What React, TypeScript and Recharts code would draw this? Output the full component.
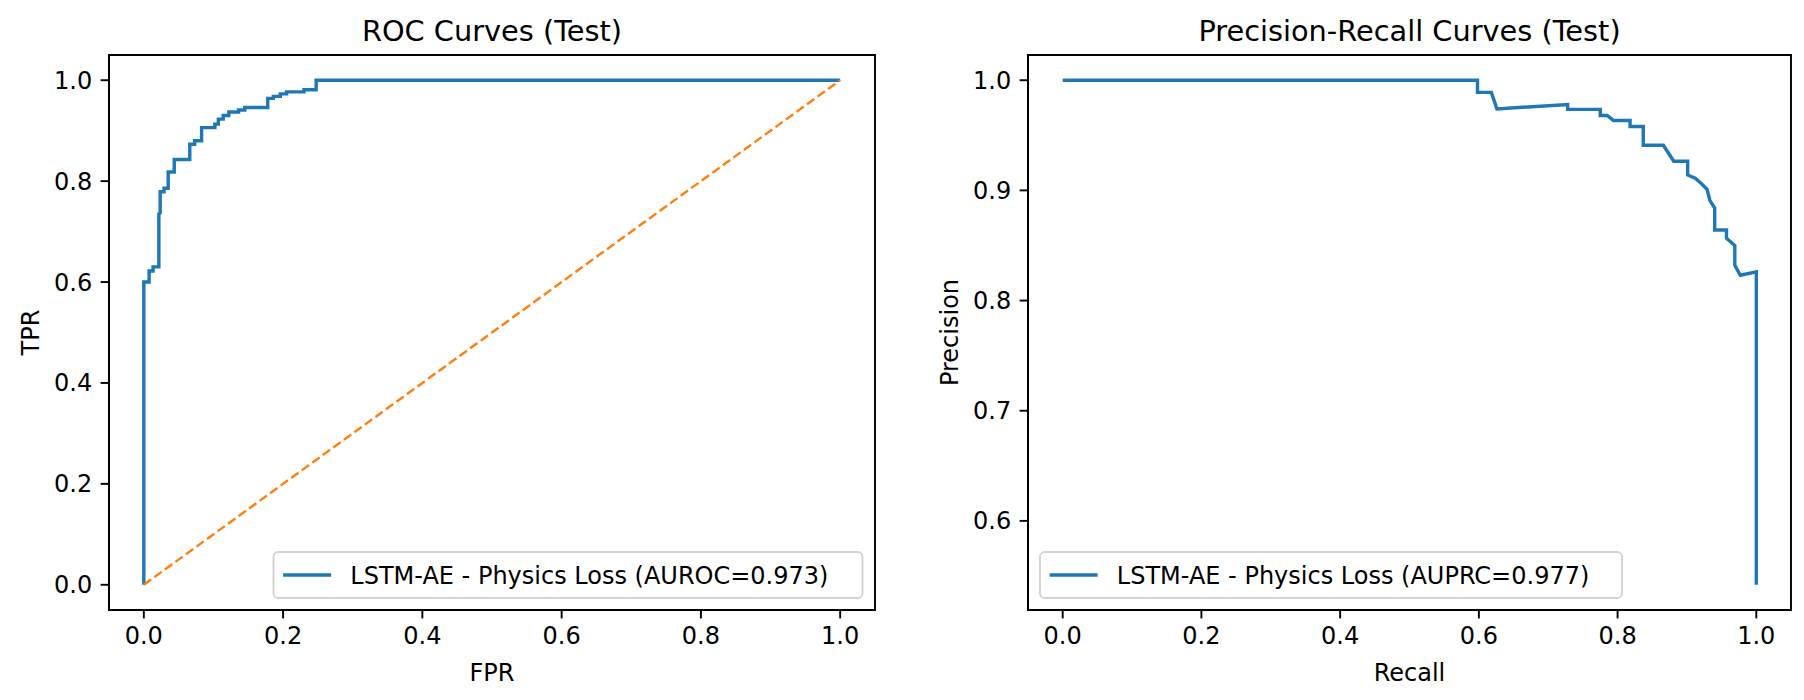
import React from 'react';
import { LineChart, Line, XAxis, YAxis, ReferenceArea } from 'recharts';

// ROC curve (test)
const rocFpr = [0, 0, 0.0076, 0.0076, 0.0133, 0.0133, 0.0216, 0.0216, 0.0235, 0.0235, 0.029, 0.029, 0.035, 0.035, 0.0437, 0.0437, 0.066, 0.066, 0.073, 0.073, 0.083, 0.083, 0.102, 0.102, 0.107, 0.107, 0.114, 0.114, 0.122, 0.122, 0.136, 0.136, 0.145, 0.145, 0.178, 0.178, 0.186, 0.186, 0.196, 0.196, 0.205, 0.205, 0.23, 0.23, 0.2475, 0.2475, 1.0];
const rocTpr = [0, 0.6, 0.6, 0.622, 0.622, 0.63, 0.63, 0.735, 0.737, 0.779, 0.779, 0.786, 0.786, 0.818, 0.818, 0.843, 0.843, 0.873, 0.873, 0.88, 0.88, 0.906, 0.906, 0.913, 0.913, 0.923, 0.923, 0.93, 0.93, 0.937, 0.937, 0.941, 0.941, 0.946, 0.946, 0.964, 0.964, 0.968, 0.968, 0.973, 0.973, 0.977, 0.977, 0.981, 0.981, 1.0, 1.0];

// chance diagonal
const chanceFpr = [0, 1];
const chanceTpr = [0, 1];

// Precision-Recall curve (test)
const prRecall = [0, 0.598, 0.598, 0.618, 0.626, 0.728, 0.728, 0.775, 0.775, 0.785, 0.794, 0.818, 0.818, 0.837, 0.837, 0.866, 0.881, 0.901, 0.901, 0.912, 0.921, 0.929, 0.933, 0.94, 0.94, 0.957, 0.957, 0.969, 0.969, 0.977, 1.0, 1.0];
const prPrecision = [1.0, 1.0, 0.989, 0.989, 0.974, 0.978, 0.9735, 0.9735, 0.968, 0.968, 0.9635, 0.9635, 0.958, 0.958, 0.941, 0.941, 0.9265, 0.9265, 0.914, 0.911, 0.906, 0.901, 0.891, 0.884, 0.864, 0.864, 0.8565, 0.85, 0.832, 0.823, 0.826, 0.542];

const xTicks = [0, 0.2, 0.4, 0.6, 0.8, 1.0];
const rocYTicks = [0, 0.2, 0.4, 0.6, 0.8, 1.0];
const prYTicks = [0.6, 0.7, 0.8, 0.9, 1.0];

const rocTitle = 'ROC Curves (Test)';
const prTitle = 'Precision-Recall Curves (Test)';
const rocLegend = 'LSTM-AE - Physics Loss (AUROC=0.973)';
const prLegend = 'LSTM-AE - Physics Loss (AUPRC=0.977)';

const toPoints = (xs: number[], ys: number[]) => xs.map((x, i) => ({ x, y: ys[i] }));
const rocData = toPoints(rocFpr, rocTpr);
const chanceData = toPoints(chanceFpr, chanceTpr);
const prData = toPoints(prRecall, prPrecision);

// matplotlib-like autoscale margins (5%)
const prMin = Math.min(...prPrecision);
const prMax = Math.max(...prPrecision);
const prPad = (prMax - prMin) * 0.05;
const prDomain: [number, number] = [prMin - prPad, prMax + prPad];
const unitDomain: [number, number] = [-0.05, 1.05];

const FONT = 'DejaVu Sans, sans-serif';
const BLUE = '#1f77b4';
const ORANGE = '#ff7f0e';
const tickStyle = { fill: '#000', fontSize: 24, fontFamily: FONT };
const lineStyle = { stroke: '#000', strokeWidth: 1.9 };
const fmt = (v: number) => v.toFixed(1);

function axes(yDomain: [number, number], yTicks: number[]) {
  return [
    <XAxis
      key="x"
      type="number"
      dataKey="x"
      domain={unitDomain}
      ticks={xTicks}
      interval={0}
      allowDataOverflow
      tickFormatter={fmt}
      tickSize={8.4}
      tickMargin={8.4}
      height={30}
      tick={tickStyle}
      axisLine={lineStyle}
      tickLine={lineStyle}
    />,
    <YAxis
      key="y"
      type="number"
      domain={yDomain}
      ticks={yTicks}
      interval={0}
      allowDataOverflow
      tickFormatter={fmt}
      tickSize={8.4}
      tickMargin={8.4}
      width={60}
      tick={tickStyle}
      axisLine={lineStyle}
      tickLine={lineStyle}
    />,
    <ReferenceArea
      key="frame"
      x1={unitDomain[0]}
      x2={unitDomain[1]}
      y1={yDomain[0]}
      y2={yDomain[1]}
      fill="none"
      fillOpacity={0}
      stroke="#000"
      strokeWidth={1.9}
      ifOverflow="visible"
    />,
  ];
}

function LegendBox({ x, y, w, label }: { x: number; y: number; w: number; label: string }) {
  return (
    <g>
      <rect x={x} y={y} width={w} height={46} rx={4.8} ry={4.8} fill="#fff" fillOpacity={0.8} stroke="#d3d3d3" strokeWidth={1.9} />
      <line x1={x + 9.6} x2={x + 57.6} y1={y + 23} y2={y + 23} stroke={BLUE} strokeWidth={3.6} />
      <text x={x + 76.8} y={y + 31.5} fontSize={24} fontFamily={FONT} fill="#000">
        {label}
      </text>
    </g>
  );
}

export default function App() {
  return (
    <div style={{ position: 'absolute', left: 0, top: 0, width: 1804, height: 700, background: '#fff', overflow: 'hidden' }}>
      <div style={{ position: 'absolute', left: 0, top: 0 }}>
        <LineChart width={902} height={700} margin={{ top: 55, right: 27, bottom: 60, left: 49 }}>
          {axes(unitDomain, rocYTicks)}
          <Line data={rocData} dataKey="y" type="linear" stroke={BLUE} strokeWidth={3.4} dot={false} activeDot={false} isAnimationActive={false} />
          <Line data={chanceData} dataKey="y" type="linear" stroke={ORANGE} strokeWidth={2.4} strokeDasharray="9 4" dot={false} activeDot={false} isAnimationActive={false} />
        </LineChart>
      </div>
      <div style={{ position: 'absolute', left: 902, top: 0 }}>
        <LineChart width={902} height={700} margin={{ top: 55, right: 13, bottom: 60, left: 66 }}>
          {axes(prDomain, prYTicks)}
          <Line data={prData} dataKey="y" type="linear" stroke={BLUE} strokeWidth={3.4} dot={false} activeDot={false} isAnimationActive={false} />
        </LineChart>
      </div>
      <svg width={1804} height={700} style={{ position: 'absolute', left: 0, top: 0, pointerEvents: 'none' }}>
        <text x={492} y={41} textAnchor="middle" fontSize={28.8} fontFamily={FONT} fill="#000">{rocTitle}</text>
        <text x={1409.5} y={41} textAnchor="middle" fontSize={28.8} fontFamily={FONT} fill="#000">{prTitle}</text>
        <text x={492} y={681} textAnchor="middle" fontSize={24} fontFamily={FONT} fill="#000">FPR</text>
        <text x={1409.5} y={681} textAnchor="middle" fontSize={24} fontFamily={FONT} fill="#000">Recall</text>
        <text x={39} y={332.5} textAnchor="middle" fontSize={24} fontFamily={FONT} fill="#000" transform="rotate(-90 39 332.5)">TPR</text>
        <text x={958} y={332.5} textAnchor="middle" fontSize={24} fontFamily={FONT} fill="#000" transform="rotate(-90 958 332.5)">Precision</text>
        <LegendBox x={273.5} y={552} w={589} label={rocLegend} />
        <LegendBox x={1040} y={552} w={582} label={prLegend} />
      </svg>
    </div>
  );
}
